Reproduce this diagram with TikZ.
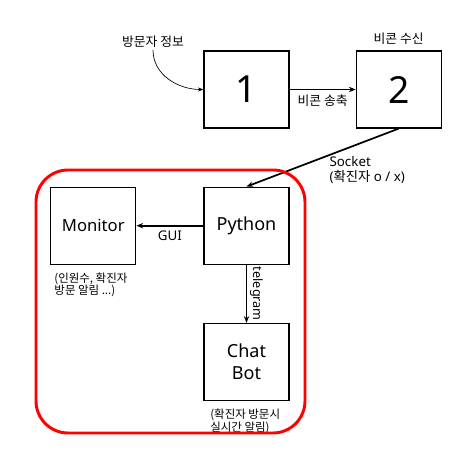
\documentclass[tikz,border=0pt]{standalone}
\usepackage{fontspec}
\setmainfont{Noto Sans}
\newfontfamily\kr{Noto Sans CJK KR}
\usetikzlibrary{arrows.meta, positioning}

\begin{document}
\begin{tikzpicture}[
      x=0.75pt, y=-0.75pt,
      node distance=49.5pt,
      box/.style={draw, line width=0.9pt, minimum width=63.75pt, minimum height=57.75pt, inner sep=0pt, align=center},
      note/.style={font=\kr\fontsize{8.6}{9.2}\selectfont, align=left, inner sep=0pt},
      lbl/.style={font=\fontsize{10}{11}\selectfont, inner sep=1pt},
      krlbl/.style={font=\kr\fontsize{9.6}{11}\selectfont, inner sep=1pt},
      arr/.style={-{Stealth[length=5pt, width=4pt]}, line width=1.3pt}
    ]
    \useasboundingbox (0,0) rectangle (474,463);

    % sensing part
    \node[box, font=\fontsize{28}{30}\selectfont] (beacon1) at (246.5,89.5) {1};
    \node[box, font=\fontsize{28}{30}\selectfont, right=of beacon1] (beacon2) {2};
    \coordinate (visitor) at (153,50);
    \node[krlbl, above=1pt of visitor] {방문자 정보};
    \node[krlbl, above=3pt of beacon2] {비콘 수신};

    % server part
    \node[box, font=\fontsize{13.5}{16}\selectfont, below=43.5pt of beacon1] (python) {Python};
    \node[box, font=\fontsize{12.5}{15}\selectfont, left=50.25pt of python] (monitor) {Monitor};
    \node[box, font=\fontsize{13.5}{17}\selectfont, below=43.5pt of python] (chatbot) {Chat\\Bot};

    \draw[-{Stealth[length=4pt, width=3pt]}, line width=0.5pt] (visitor) to[out=-90, in=180] (beacon1.west);
    \draw[arr] (beacon1) -- node[krlbl, below=2pt] {비콘 송축} (beacon2);
    \draw[arr] (beacon2.south) -- (python.north);
    \node[lbl, align=left, anchor=north west] at (328,155) {Socket\\({\kr 확진자} o / x)};
    \draw[arr] (python) -- node[lbl, below=2pt] {GUI} (monitor);
    \draw[arr] (python) -- node[lbl, font=\fontsize{9.5}{10}\selectfont, right=1pt, rotate=-90, anchor=south] {telegram} (chatbot);

    \node[note, below right=6pt and 3pt of monitor.south west, anchor=north west] {(인원수, 확진자\\방문 알림 ...)};
    \node[note, below right=6pt and 5pt of chatbot.south west, anchor=north west] {(확진자 방문시\\실시간 알림)};

    \draw[red, line width=2.2pt, rounded corners=24pt] (36,170) rectangle (305,433);
  \end{tikzpicture}
\end{document}
